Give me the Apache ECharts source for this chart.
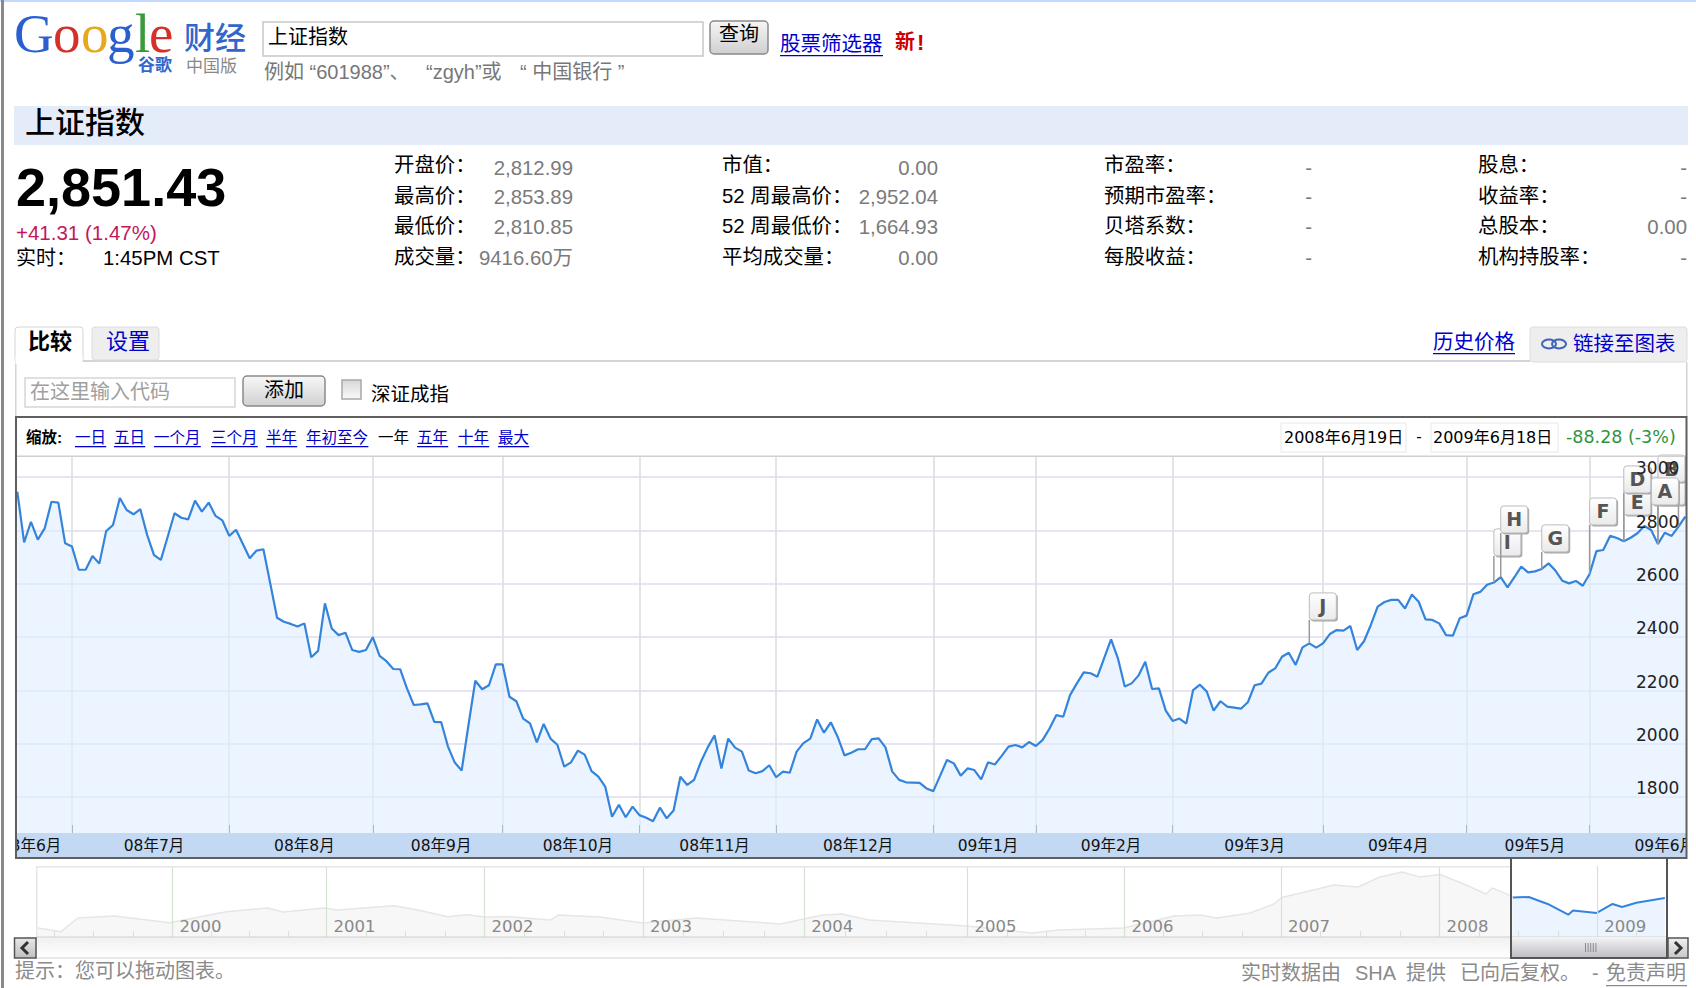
<!DOCTYPE html>
<html lang="zh">
<head>
<meta charset="utf-8">
<title>上证指数</title>
<style>
html,body{margin:0;padding:0;background:#fff;overflow:hidden}
#chart{width:1696px;height:988px}
</style>
<script src="https://cdn.jsdelivr.net/npm/echarts@6/dist/echarts.min.js"></script>
</head>
<body>
<div id="chart"></div>
<script>
// Daily closes of the Shanghai Composite, 19 Jun 2008 to 18 Jun 2009
const closes = [
  2945,2755,2832,2765,2807,2907,2904,2751,2739,2652,2652,2704,2675,2797,2820,2921,2876,2860,2879,2782,
  2707,2689,2776,2864,2847,2841,2911,2870,2904,2854,2837,2779,2802,2749,2695,2724,2729,2601,2472,2457,
  2449,2439,2451,2324,2348,2526,2432,2407,2416,2351,2344,2351,2399,2329,2309,2280,2279,2207,2145,2147,
  2151,2082,2081,1989,1929,1899,2070,2236,2204,2219,2297,2297,2176,2159,2094,2076,2005,2074,2019,1996,
  1914,1930,1974,1959,1897,1876,1839,1726,1771,1724,1764,1732,1722,1709,1760,1720,1749,1876,1845,1864,
  1932,1986,2031,1907,2019,1985,1970,1899,1889,1897,1919,1874,1895,1891,1970,2002,2019,2091,2041,2080,
  2026,1956,1966,1979,1979,2017,2020,1986,1895,1864,1855,1854,1853,1832,1822,1880,1939,1926,1880,1907,
  1901,1866,1930,1922,1954,1989,1995,1986,2006,1991,2014,2057,2107,2101,2182,2226,2267,2264,2251,2322,
  2391,2320,2214,2226,2255,2307,2205,2207,2124,2085,2094,2075,2201,2221,2195,2124,2159,2139,2135,2131,
  2155,2219,2225,2266,2282,2326,2341,2295,2361,2376,2360,2376,2411,2426,2424,2441,2351,2384,2445,2514,
  2531,2539,2539,2507,2559,2532,2466,2464,2451,2407,2405,2470,2480,2560,2569,2596,2604,2624,2586,2624,
  2664,2642,2646,2655,2676,2649,2611,2601,2610,2592,2636,2722,2726,2779,2771,2759,2772,2789,2816,2801,
  2749,2791,2779,2814,2851
];
const tradingDays = closes.map((_, i) => String(i));

// First trading day of each month, as positions in closes
const monthStarts = [8,31,52,71,91,111,134,149,169,191,212,230];
const monthNames = ['08年6月','08年7月','08年8月','08年9月','08年10月','08年11月','08年12月','09年1月','09年2月','09年3月','09年4月','09年5月','09年6月'];
const monthLabelDays = [2,20,42,62,82,102,123,142,160,181,202,222,241];

const priceTicks = [1800,2000,2200,2400,2600,2800,3000];
const priceMin = 1664.93;
const priceMax = 3076;

// Event flags, back to front: letter, trading day, price level of the box's lower edge
const flagLetters = ['J','I','H','G','F','E','D','C','B','A'];
const flagDays    = [189,216,217,223,230,235,235,240,240,243];
const flagLevels  = [2464,2704,2790,2719,2820,2857,2940,2895,2981,2895];

// Long-range overview: time position (in years along the strip), index level
const overviewYears = [1999.15,1999.295,1999.40,1999.635,1999.98,2000.34,2000.60,2000.70,2000.96,2001.04,2001.40,2001.55,2001.74,2001.86,2001.97,2002.13,2002.39,2002.44,2002.70,2002.97,2003.31,2003.84,2004.11,2004.23,2004.40,2005.02,2005.43,2005.60,2006.01,2006.33,2006.49,2006.60,2006.81,2006.96,2007.01,2007.34,2007.49,2007.63,2007.77,2007.88,2008.01,2008.16,2008.30,2008.34,2008.47];
const overviewLevels = [1158,1038,1560,1655,1356,1881,2100,1865,2100,1978,2249,1978,1621,1720,1607,1621,1470,1709,1607,1344,1560,1305,1709,1756,1470,1229,998,1091,1158,1655,1709,1560,1810,2366,2868,4165,3922,5281,6125,5281,5692,4289,3186,3808,2945];
const selectedYears = [2008.47,2008.57,2008.69,2008.82,2008.85,2009.00,2009.10,2009.16,2009.25,2009.43];
const selectedLevels = [2868,2913,2366,1720,1943,1810,2366,2164,2459,2829];
// The strip runs on trading time, so each new year falls slightly off the whole number
const yearStarts = [2000,2000.972,2001.971,2002.973,2003.991,2005.024,2006.015,2007.005,2008.006,2009.003];
const quarterTicks = [];
[[1999,2000],...yearStarts.slice(1).map((y, i) => [yearStarts[i], y])].forEach(([a, b]) => {
  [0.25,0.5,0.75].forEach(f => {
    const q = a + (b - a) * f;
    if (q > 1999.143 && q < 2009.444) quarterTicks.push(q);
  });
});
quarterTicks.push(2009.25);

// Quote panel
const quoteRows = [
  [['开盘价：','2,812.99'],['最高价：','2,853.89'],['最低价：','2,810.85'],['成交量：','9416.60万']],
  [['市值：','0.00'],['52 周最高价：','2,952.04'],['52 周最低价：','1,664.93'],['平均成交量：','0.00']],
  [['市盈率：','-'],['预期市盈率：','-'],['贝塔系数：','-'],['每股收益：','-']],
  [['股息：','-'],['收益率：','-'],['总股本：','0.00'],['机构持股率：','-']]
];
const zoomLinks = ['一日','五日','一个月','三个月','半年','年初至今','一年','五年','十年','最大'];

const SANS = '"Liberation Sans","Noto Sans CJK SC",sans-serif';
const VERD = '"DejaVu Sans","Noto Sans CJK SC",sans-serif';
const LINK = '#0000cc';

function txt(x, y, text, o) {
  o = o || {};
  return {type:'text', x, y, z:o.z || 20, silent:true, style:{
    text, fill:o.color || '#000',
    font:(o.weight || 'normal') + ' ' + (o.size || 20) + 'px ' + (o.family || SANS),
    textAlign:o.align || 'left', textVerticalAlign:o.valign || 'middle'
  }};
}
function box(x, y, w, h, fill, o) {
  o = o || {};
  return {type:'rect', z:o.z === undefined ? 10 : o.z, silent:true, shape:{x, y, width:w, height:h, r:o.r || 0},
    style:{fill:fill || 'none', stroke:o.stroke || 'none', lineWidth:o.lw || 1}};
}
function link(x, y, text, size, width) {
  return [txt(x, y, text, {color:LINK, size}), box(x, y + size * 0.58, width, 1.3, LINK, {z:21})];
}
const vGrad = (a, b) => ({type:'linear', x:0, y:0, x2:0, y2:1, colorStops:[{offset:0, color:a},{offset:1, color:b}]});

const chrome = [];
// page frame
chrome.push(box(0, 0, 1696, 2, '#c3d9ff', {z:40}));
chrome.push(box(1, 0, 3, 988, '#8a8a8a', {z:40}));
// wordmark and search row
[['G','#2a5fd0',14],['o','#d5312a',53],['o','#e8a81c',81],['g','#2a5fd0',107],['l','#3b9a3b',135],['e','#d5312a',149]].forEach(g => {
  chrome.push(txt(g[2], 33, g[0], {color:g[1], size:55, family:'"Liberation Serif",serif'}));
});
chrome.push(txt(184, 38, '财经', {color:'#3366cc', size:31, weight:'500'}));
chrome.push(txt(138, 65, '谷歌', {color:'#3366cc', size:17, weight:'bold'}));
chrome.push(txt(186, 66, '中国版', {color:'#888', size:17}));
chrome.push(box(263, 22, 440, 34, '#fff', {stroke:'#c8c8c8', lw:1.5}));
chrome.push(txt(268, 37, '上证指数', {size:20}));
chrome.push(box(710, 21, 58, 33, vGrad('#f6f6f6','#cfcfcf'), {stroke:'#8a8a8a', lw:1.5, r:4}));
chrome.push(txt(739, 34, '查询', {size:20, align:'center'}));
chrome.push(...link(780, 43, '股票筛选器', 20.5, 103));
chrome.push(txt(895, 42, '新', {color:'#cc0000', size:20, weight:'bold'}));
chrome.push(txt(917, 42, '!', {color:'#cc0000', size:22, weight:'bold'}));
chrome.push(txt(264, 72, '例如 “601988”、', {color:'#777', size:20}));
chrome.push(txt(426, 72, '“zgyh”或', {color:'#777', size:20}));
chrome.push(txt(520, 72, '“ 中国银行 ”', {color:'#777', size:20}));
// heading band
chrome.push(box(14, 106, 1674, 39, '#e5ecf9'));
chrome.push(txt(25, 122, '上证指数', {size:30, weight:'500'}));
// last price
chrome.push(txt(16, 187, '2,851.43', {size:54, weight:'bold'}));
chrome.push(txt(16, 232, '+41.31 (1.47%)', {size:20.5, color:'#c2185b'}));
chrome.push(txt(16, 258, '实时：', {size:20}));
chrome.push(txt(103, 258, '1:45PM CST', {size:20.4}));
// quote columns
const quoteColumns = [[394,573],[722,938],[1104,1312],[1478,1687]];
const rowY = [165,196,226,257];
const valueY = [168,197,227,258];
quoteRows.forEach((col, c) => col.forEach((row, r) => {
  chrome.push(txt(quoteColumns[c][0], rowY[r], row[0], {size:20.4}));
  chrome.push(txt(quoteColumns[c][1], valueY[r], row[1], {size:20.4, color:'#7a7a7a', align:'right'}));
}));
// tabs and compare row
chrome.push(box(83, 360, 1447, 2, '#d4d4d4'));
chrome.push(box(15, 327, 68, 36, '#fff', {stroke:'#d4d4d4', r:3, z:11}));
chrome.push(box(15.5, 355, 67, 9, '#fff', {z:12}));
chrome.push(box(92, 327, 67, 33, '#eeeeee', {stroke:'#dcdcdc', r:3}));
chrome.push(txt(28, 341, '比较', {size:22, weight:'bold', z:22}));
chrome.push(txt(106, 341, '设置', {size:22, color:LINK, z:22}));
chrome.push(...link(1433, 341, '历史价格', 20.5, 82));
chrome.push(box(1530, 327, 157, 35, '#eeeeee', {stroke:'#dcdcdc', r:3}));
chrome.push({type:'ellipse', z:21, silent:true, shape:{cx:1549, cy:344, rx:7, ry:4.5}, style:{fill:'none', stroke:'#3f63b8', lineWidth:2}});
chrome.push({type:'ellipse', z:21, silent:true, shape:{cx:1559, cy:344, rx:7, ry:4.5}, style:{fill:'none', stroke:'#3f63b8', lineWidth:2}});
chrome.push(txt(1573, 343, '链接至图表', {size:20.5, color:LINK, z:22}));
chrome.push(box(15, 362, 1.5, 55, '#d4d4d4'));
chrome.push(box(1686, 362, 1.5, 55, '#d4d4d4'));
chrome.push(box(25, 378, 210, 29, '#fff', {stroke:'#d6d6d6', lw:1.5}));
chrome.push(txt(30, 392, '在这里输入代码', {size:20, color:'#a0a0a0'}));
chrome.push(box(243, 376, 82, 30, vGrad('#f8f8f8','#d0d0d0'), {stroke:'#8a8a8a', lw:1.5, r:4}));
chrome.push(txt(284, 390, '添加', {size:20, align:'center'}));
chrome.push(box(342, 380, 19, 19, vGrad('#d8d8d8','#fafafa'), {stroke:'#a8a8a8', lw:1.5}));
chrome.push(txt(371, 394, '深证成指', {size:19.5}));
// range row above the plot
chrome.push(txt(26, 437, '缩放:', {size:15.5, weight:'bold'}));
const zoomX = [75,114,154,211,266,306,378,417,458,498];
zoomLinks.forEach((z, i) => {
  const w = z.length * 15.6;
  if (z === '一年') chrome.push(txt(zoomX[i], 437, z, {size:15.5}));
  else chrome.push(...link(zoomX[i], 437, z, 15.5, w));
});
chrome.push(box(1281, 423, 125, 29, '#fff', {stroke:'#e8e8e8'}));
chrome.push(box(1431, 423, 127, 29, '#fff', {stroke:'#e8e8e8'}));
chrome.push(txt(1284, 437, '2008年6月19日', {size:16, family:VERD}));
chrome.push(txt(1419, 437, '-', {size:15, family:VERD, align:'center'}));
chrome.push(txt(1433, 437, '2009年6月18日', {size:16, family:VERD}));
chrome.push(txt(1566, 437, '-88.28 (-3%)', {size:17.5, family:VERD, color:'#2f9440'}));
chrome.push(box(17, 455.5, 1669, 1.5, '#d0d0d0'));
// date band below the plot
chrome.push(box(16, 833, 1670, 25, '#c3d9f3', {z:-1}));
// labels that overrun the band are cut off at the box edges
chrome.push(box(4, 833, 12, 26, '#fff', {z:30}));
chrome.push(box(1687, 833, 9, 26, '#fff', {z:30}));
// chart box outline
chrome.push(box(16, 417, 1670.5, 441, 'none', {stroke:'#5f5f5f', lw:2, z:35}));
// overview frame
chrome.push(box(37, 866, 1474, 1.5, '#e6e6e6'));
chrome.push(box(36, 866, 1.5, 72, '#e6e6e6'));
// scroller track
chrome.push(box(36, 937, 1632, 21, vGrad('#f0f0f0','#ffffff'), {stroke:'#d0d0d0', z:12}));
chrome.push(box(1511, 937, 156, 21, vGrad('#f4f4f4','#bcbcc4'), {z:13}));
[0,1,2,3,4].forEach(k => chrome.push(box(1585 + k * 2.6, 943, 1, 9, '#8a8a8a', {z:14})));
// window over the selected range
chrome.push(box(1510, 858, 2, 100, '#555', {z:36}));
chrome.push(box(1666, 858, 2, 100, '#555', {z:36}));
chrome.push(box(1510, 957, 158, 2, '#555', {z:36}));
// scroller arrows
chrome.push(box(14.5, 938, 21.5, 20, vGrad('#e8e8e8','#c0c0c0'), {stroke:'#555', lw:1.5, z:16}));
chrome.push(box(1668, 938, 20, 20, vGrad('#f0f0f0','#c8c8c8'), {stroke:'#555', lw:1.5, z:16}));
chrome.push({type:'polyline', z:17, silent:true, shape:{points:[[28,942],[22,948],[28,954]]}, style:{fill:'none', stroke:'#333', lineWidth:3}});
chrome.push({type:'polyline', z:17, silent:true, shape:{points:[[1675,942],[1681,948],[1675,954]]}, style:{fill:'none', stroke:'#333', lineWidth:3}});
// footer
chrome.push(txt(15, 971, '提示：您可以拖动图表。', {size:20, color:'#8a8a8a'}));
chrome.push(txt(1241, 973, '实时数据由', {size:20, color:'#8a8a8a'}));
chrome.push(txt(1355, 973, 'SHA', {size:20, color:'#8a8a8a'}));
chrome.push(txt(1406, 973, '提供', {size:20, color:'#8a8a8a'}));
chrome.push(txt(1460, 973, '已向后复权。', {size:20, color:'#8a8a8a'}));
chrome.push(txt(1592, 973, '-', {size:20, color:'#8a8a8a'}));
chrome.push(txt(1606, 973, '免责声明', {size:20, color:'#8a8a8a'}));
chrome.push(box(1606, 985, 81, 1.3, '#8a8a8a'));

const PLOT_RIGHT = 1685.3;
const flagData = flagLetters.map((l, i) => [flagDays[i], closes[flagDays[i]], flagLevels[i], l]);

function renderFlag(params, api) {
  const p = api.coord([api.value(0), api.value(1)]);
  const low = api.coord([api.value(0), api.value(2)]);
  const w = 27, h = 27;
  const left = p[0] + w > PLOT_RIGHT ? p[0] - w : p[0];
  return {type:'group', children:[
    {type:'line', shape:{x1:p[0], y1:p[1], x2:p[0], y2:low[1]}, style:{stroke:'#9a9a9a', lineWidth:1.5}},
    {type:'rect', shape:{x:left + 1.5, y:low[1] - h + 1.5, width:w, height:h, r:3}, style:{fill:'#a8a8a8'}},
    {type:'rect', shape:{x:left, y:low[1] - h, width:w, height:h, r:3},
      style:{fill:vGrad('#ffffff','#eaeaea'), stroke:'#bcbcbc', lineWidth:1}},
    {type:'text', style:{x:left + w / 2, y:low[1] - h / 2, text:flagLetters[params.dataIndex],
      textAlign:'center', textVerticalAlign:'middle', fill:'#555', font:'bold 19px "DejaVu Sans",sans-serif'}}
  ]};
}

const chart = echarts.init(document.getElementById('chart'), null, {renderer:'svg', width:1696, height:988});
chart.setOption({
  animation:false,
  backgroundColor:'#fff',
  graphic:{elements:chrome},
  grid:[
    {left:17.3, right:10.7, top:456.7, height:376.3, containLabel:false, outerBoundsMode:'none'},
    {left:37, width:1630, top:866, height:71, containLabel:false, outerBoundsMode:'none'}
  ],
  xAxis:[
    {type:'category', gridIndex:0, data:tradingDays, boundaryGap:false,
      axisLine:{show:false},
      axisTick:{show:true, inside:true, length:8, lineStyle:{color:'#666', width:1},
        interval:i => monthStarts.includes(i)},
      splitLine:{show:true, lineStyle:{color:'#d9e1dc', width:1.6},
        interval:i => monthStarts.includes(i)},
      axisLabel:{show:true, margin:5, color:'#111', fontSize:15.5, fontFamily:VERD, hideOverlap:false,
        interval:i => monthLabelDays.includes(i),
        formatter:(v, i) => monthNames[monthLabelDays.indexOf(i)]}
    },
    {type:'value', gridIndex:1, min:1999.143, max:2009.444, position:'bottom', z:5,
      axisLine:{show:false}, axisTick:{show:false, customValues:yearStarts},
      splitLine:{show:true, lineStyle:{color:'#d6e2d4', width:1.2}},
      axisLabel:{show:true, inside:true, margin:2, align:'left', verticalAlign:'bottom', padding:[0,0,0,7],
        customValues:yearStarts, color:'#888', fontSize:16.5, fontFamily:VERD, showMinLabel:true, showMaxLabel:true,
        formatter:v => String(Math.round(v))}
    },
    {type:'value', gridIndex:1, min:1999.143, max:2009.444, position:'bottom', z:5,
      axisLine:{show:false},
      axisTick:{show:true, inside:true, length:6, customValues:quarterTicks, lineStyle:{color:'#d6e2d4', width:1}},
      splitLine:{show:false}, axisLabel:{show:false}
    }
  ],
  yAxis:[
    {type:'value', gridIndex:0, position:'right', min:priceMin, max:priceMax,
      axisLine:{show:false}, axisTick:{show:false, customValues:priceTicks}, axisLabel:{show:false},
      splitLine:{show:true, lineStyle:{color:'#dfdcf1', width:1.6}}
    },
    {type:'value', gridIndex:0, position:'right', min:priceMin, max:priceMax, z:25,
      axisLine:{show:false}, axisTick:{show:false, customValues:priceTicks}, splitLine:{show:false},
      axisLabel:{show:true, inside:true, margin:6, align:'right', verticalAlign:'bottom', customValues:priceTicks,
        color:'#222', fontSize:17, fontFamily:VERD, showMinLabel:true, showMaxLabel:true, formatter:v => String(v)}
    },
    {type:'log', gridIndex:1, min:886, max:7320, show:false}
  ],
  series:[
    {type:'line', name:'上证指数', xAxisIndex:0, yAxisIndex:0, data:closes, showSymbol:false, z:3,
      lineStyle:{color:'#3484dc', width:2.2},
      areaStyle:{color:'#e0efff', opacity:0.6, origin:'start'}},
    {type:'custom', name:'事件', xAxisIndex:0, yAxisIndex:0, data:flagData, renderItem:renderFlag,
      encode:{x:0, y:1}, clip:false, z:6},
    {type:'line', name:'历史', xAxisIndex:1, yAxisIndex:2,
      data:overviewYears.map((y, i) => [y, overviewLevels[i]]), showSymbol:false, z:3,
      lineStyle:{color:'#e6e6e6', width:1.5},
      areaStyle:{color:'#f7f7f7', opacity:1, origin:'start'}},
    {type:'line', name:'所选区间', xAxisIndex:1, yAxisIndex:2,
      data:selectedYears.map((y, i) => [y, selectedLevels[i]]), showSymbol:false, z:3,
      lineStyle:{color:'#3484dc', width:2},
      areaStyle:{color:'#e0efff', opacity:0.6, origin:'start'}}
  ]
});
</script>
</body>
</html>
